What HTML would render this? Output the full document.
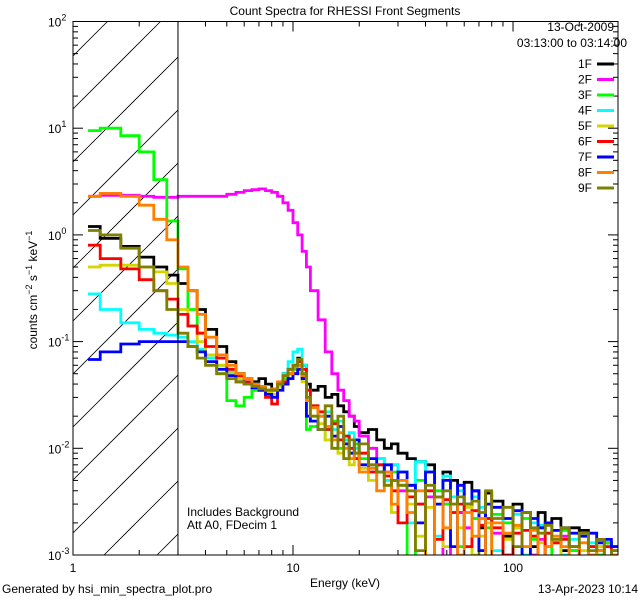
<!DOCTYPE html>
<html><head><meta charset="utf-8"><style>
html,body{margin:0;padding:0;background:#fff;width:640px;height:600px;overflow:hidden}
svg{display:block}
text{font-family:"Liberation Sans",sans-serif;font-size:12px;fill:#000}
</style></head><body>
<svg id="chart" width="640" height="600">
<defs><clipPath id="pc"><rect x="73" y="21.5" width="545" height="533.5"/></clipPath>
<clipPath id="hc"><rect x="73" y="21.5" width="105" height="533.5"/></clipPath></defs>
<rect x="0" y="0" width="640" height="600" fill="#fff"/>
<g id="hatch" clip-path="url(#hc)"></g>
<g id="series" clip-path="url(#pc)"></g>
<g id="axes"></g>
<text x="345" y="15" text-anchor="middle" font-size="14">Count Spectra for RHESSI Front Segments</text>
<text x="614" y="31" text-anchor="end">13-Oct-2009</text>
<text x="627" y="47" text-anchor="end">03:13:00 to 03:14:00</text>
<g id="legend"></g>
<text x="187" y="516">Includes Background</text>
<text x="187" y="529">Att A0, FDecim 1</text>
<text x="345" y="587" text-anchor="middle">Energy (keV)</text>
<text transform="translate(37,290) rotate(-90)" text-anchor="middle">counts cm<tspan dy="-5" font-size="9">−2</tspan><tspan dy="5"> s</tspan><tspan dy="-5" font-size="9">−1</tspan><tspan dy="5"> keV</tspan><tspan dy="-5" font-size="9">−1</tspan></text>
<text x="2" y="593">Generated by hsi_min_spectra_plot.pro</text>
<text x="638" y="593" text-anchor="end">13-Apr-2023 10:14</text>
</svg>
<script>
const edges=[1.17,1.33,1.65,2,2.33,2.67,3,3.33,3.67,4,4.5,5,5.5,6,6.5,7,7.5,8,8.5,9,9.5,10,10.5,11,11.5,12,13,14,15,16,17,18,19,20,22,24,26,28,30,33,36,40,44,48,52,56,60,65,70,75,80,90,100,110,120,130,140,150,165,180,200,220,240,260,280,300];
const seriesNames=["1F","2F","3F","4F","5F","6F","7F","8F","9F"];
const seriesColors=["#000000","#ff00ff","#00ff00","#00ffff","#d4d400","#ff0000","#0000ff","#ff8000","#808000"];
const s1F=[1.2,0.93,0.78,0.62,0.5,0.42,0.35,0.3,0.2,0.13,0.09,0.065,0.05,0.045,0.042,0.045,0.04,0.035,0.04,0.05,0.055,0.06,0.07,0.06,0.04,0.035,0.038,0.03,0.032,0.025,0.022,0.02,0.016,0.014,0.015,0.012,0.01,0.011,0.009,0.008,0.0075,0.007,0.0035,0.006,0.005,0.0025,0.0048,0.004,0.0018,0.0038,0.0032,0.0015,0.003,0.0025,0.0012,0.0025,0.002,0.0022,0.0011,0.0018,0.0017,0.0009,0.0014,0.0013,0.0012];
const s2F=[2.3,2.35,2.35,2.3,2.25,2.25,2.3,2.3,2.3,2.3,2.3,2.4,2.5,2.6,2.65,2.7,2.6,2.5,2.3,2.0,1.7,1.3,1.0,0.7,0.5,0.3,0.16,0.08,0.05,0.035,0.028,0.02,0.018,0.013,0.01,0.008,0.006,0.007,0.004,0.0045,0.003,0.0035,0.0009,0.003,0.0009,0.0025,0.0018,0.0009,0.0011,0.0022,0.0016,0.0009,0.0018,0.0008,0.001,0.0014,0.0009,0.0009,0.0015,0.0011,0.0009,0.0012,0.0011,0.0009,0.0011];
const s3F=[9.5,10,8.5,6,3.3,1.35,0.48,0.2,0.12,0.07,0.05,0.028,0.025,0.03,0.035,0.038,0.035,0.032,0.04,0.045,0.05,0.055,0.06,0.045,0.015,0.016,0.02,0.012,0.018,0.01,0.013,0.009,0.011,0.008,0.006,0.007,0.005,0.006,0.0045,0.0009,0.005,0.0009,0.004,0.003,0.0035,0.0012,0.003,0.0022,0.0009,0.0018,0.0024,0.002,0.0009,0.0022,0.0014,0.0018,0.0009,0.0013,0.0017,0.0011,0.0009,0.0012,0.001,0.0013,0.0009];
const s4F=[0.28,0.2,0.15,0.13,0.12,0.115,0.11,0.1,0.085,0.07,0.06,0.052,0.047,0.045,0.04,0.038,0.033,0.035,0.04,0.05,0.065,0.08,0.085,0.06,0.035,0.025,0.02,0.022,0.015,0.018,0.012,0.014,0.01,0.009,0.007,0.008,0.005,0.007,0.006,0.002,0.0075,0.006,0.0015,0.0055,0.0035,0.004,0.0012,0.0035,0.0028,0.003,0.0011,0.0022,0.0024,0.001,0.002,0.0019,0.0016,0.0017,0.001,0.0014,0.0016,0.0013,0.0012,0.0012,0.0011];
const s5F=[0.5,0.52,0.52,0.5,0.45,0.35,0.2,0.14,0.1,0.075,0.06,0.05,0.045,0.04,0.038,0.035,0.033,0.032,0.038,0.042,0.045,0.05,0.05,0.042,0.028,0.02,0.017,0.012,0.013,0.009,0.011,0.007,0.008,0.0065,0.005,0.006,0.0045,0.0025,0.005,0.003,0.0015,0.0028,0.003,0.0012,0.0025,0.0018,0.0028,0.001,0.0015,0.002,0.0009,0.0014,0.0018,0.0012,0.0009,0.0013,0.0012,0.0014,0.0009,0.0012,0.0011,0.001,0.0012,0.0009,0.001];
const s6F=[0.8,0.6,0.48,0.38,0.3,0.25,0.18,0.14,0.12,0.09,0.07,0.055,0.048,0.042,0.038,0.035,0.03,0.026,0.04,0.042,0.05,0.06,0.065,0.055,0.035,0.025,0.022,0.015,0.017,0.012,0.013,0.01,0.008,0.009,0.006,0.007,0.0055,0.004,0.002,0.0035,0.003,0.004,0.0014,0.0033,0.0025,0.003,0.0012,0.0026,0.0019,0.0022,0.0018,0.001,0.0016,0.0017,0.0015,0.0009,0.0016,0.0013,0.0014,0.0012,0.0009,0.0012,0.0011,0.0012,0.0009];
const s7F=[0.068,0.08,0.095,0.1,0.1,0.1,0.1,0.09,0.08,0.065,0.055,0.048,0.042,0.04,0.037,0.035,0.032,0.03,0.035,0.04,0.045,0.05,0.055,0.045,0.02,0.018,0.015,0.02,0.013,0.016,0.011,0.009,0.012,0.007,0.008,0.006,0.007,0.005,0.006,0.0045,0.002,0.006,0.003,0.005,0.0012,0.0045,0.003,0.004,0.0011,0.003,0.0028,0.0022,0.0026,0.0009,0.0022,0.0018,0.002,0.0017,0.0018,0.0016,0.0015,0.0016,0.0013,0.0014,0.0012];
const s8F=[2.3,2.45,2.3,1.9,1.4,0.9,0.5,0.3,0.18,0.11,0.075,0.06,0.05,0.045,0.04,0.038,0.035,0.036,0.042,0.048,0.05,0.058,0.06,0.048,0.028,0.024,0.02,0.016,0.012,0.014,0.01,0.008,0.009,0.006,0.0065,0.004,0.006,0.003,0.005,0.0025,0.004,0.0009,0.0035,0.0018,0.003,0.001,0.0025,0.0015,0.0022,0.0009,0.002,0.0016,0.0019,0.0012,0.0017,0.0009,0.0012,0.0015,0.0012,0.0009,0.0013,0.001,0.0011,0.0009,0.001];
const s9F=[1.1,1.0,0.75,0.5,0.3,0.2,0.12,0.09,0.07,0.06,0.05,0.045,0.042,0.04,0.038,0.036,0.035,0.035,0.04,0.048,0.055,0.06,0.068,0.05,0.03,0.02,0.015,0.025,0.01,0.02,0.008,0.012,0.009,0.011,0.007,0.006,0.0045,0.005,0.0045,0.004,0.0011,0.0045,0.0035,0.004,0.003,0.0035,0.003,0.0032,0.0025,0.004,0.0022,0.0028,0.0012,0.0025,0.0018,0.0016,0.0019,0.0014,0.0018,0.0012,0.0016,0.0011,0.0014,0.0009,0.0011];
const seriesValues=[s1F,s2F,s3F,s4F,s5F,s6F,s7F,s8F,s9F];
const xTickLabels=["1","10","100"];
const xTickValues=[1,10,100];
const yTickExps=[2,1,0,-1,-2,-3];

const NS="http://www.w3.org/2000/svg";
const X0=73,X1=618,Y0=21.5,Y1=555,XMIN=1,XMAX=300,YMIN=1e-3,YMAX=1e2;
function xs(e){return X0+(Math.log10(e)-Math.log10(XMIN))/(Math.log10(XMAX)-Math.log10(XMIN))*(X1-X0);}
function ys(v){return Y1-(Math.log10(v)-Math.log10(YMIN))/(Math.log10(YMAX)-Math.log10(YMIN))*(Y1-Y0);}
function mk(tag,attrs,parent){const el=document.createElementNS(NS,tag);for(const k in attrs)el.setAttribute(k,attrs[k]);parent.appendChild(el);return el;}

const hatch=document.getElementById('hatch');
const HX1=xs(3), HW=HX1-X0;
for(let c=-50;c<=650;c+=53){
  // line from left edge (X0, yl) to right edge (HX1, yl-HW), trimmed to plot box
  let xa=X0, ya=c, xb=HX1, yb=c-HW;
  if(ya>Y1){xa+=ya-Y1;ya=Y1;}
  if(yb<Y0){xb-=Y0-yb;yb=Y0;}
  if(xa>=xb)continue;
  const ln=mk('line',{x1:xa,y1:ya,x2:xb,y2:yb,stroke:'#000','stroke-width':0.8},hatch);
  
  
}

const sg=document.getElementById('series');
seriesValues.forEach((vals,si)=>{
  let d='';
  vals.forEach((v,i)=>{
    const vv=Math.max(v,9e-4);
    const xa=xs(edges[i]),xb=xs(edges[i+1]),y=Math.min(ys(vv),Y1+2);
    d+=(i===0?'M':'L')+xa.toFixed(1)+','+y.toFixed(1)+'L'+xb.toFixed(1)+','+y.toFixed(1);
  });
  const p=mk('path',{d:d,fill:'none',stroke:seriesColors[si],'stroke-width':2.8,'stroke-linejoin':'miter'},sg);
  
  
});

const ag=document.getElementById('axes');
const frame=mk('rect',{x:X0,y:Y0,width:X1-X0,height:Y1-Y0,fill:'none',stroke:'#000','stroke-width':1},ag);


const vl=mk('line',{x1:xs(3),y1:Y0,x2:xs(3),y2:Y1,stroke:'#000','stroke-width':1},ag);


for(let dec=1;dec<=100;dec*=10){
  for(let m=1;m<10;m++){
    const e=dec*m; if(e>XMAX)break;
    const x=xs(e),L=(m===1)?10:5;
    const t1=mk('line',{x1:x,y1:Y1,x2:x,y2:Y1-L,stroke:'#000'},ag);
    
    
    const t2=mk('line',{x1:x,y1:Y0,x2:x,y2:Y0+L,stroke:'#000'},ag);
    
    
  }
}
xTickValues.forEach((v,i)=>{
  const t=mk('text',{x:xs(v),y:572,'text-anchor':'middle'},ag);
  t.textContent=xTickLabels[i];
  
  
});
for(let ex=-3;ex<2;ex++){
  for(let m=1;m<10;m++){
    const v=Math.pow(10,ex)*m, y=ys(v), L=(m===1)?10:5;
    const a=mk('line',{x1:X0,y1:y,x2:X0+L,y2:y,stroke:'#000'},ag);
    
    
    const b=mk('line',{x1:X1,y1:y,x2:X1-L,y2:y,stroke:'#000'},ag);
    
    
  }
}
yTickExps.forEach(ex=>{
  const y=ys(Math.pow(10,ex));
  const t=mk('text',{x:48,y:y+5},ag);
  t.innerHTML='10<tspan dy="-6" font-size="9">'+ex+'</tspan>';
  
  
});

const lg=document.getElementById('legend');
seriesNames.forEach((n,i)=>{
  const y=64+i*15.5;
  const t=mk('text',{x:592,y:y+4,'text-anchor':'end'},lg);
  t.textContent=n;
  
  
  const l=mk('line',{x1:597,y1:y,x2:614,y2:y,stroke:seriesColors[i],'stroke-width':3},lg);
  
  
});
</script>
</body></html>
